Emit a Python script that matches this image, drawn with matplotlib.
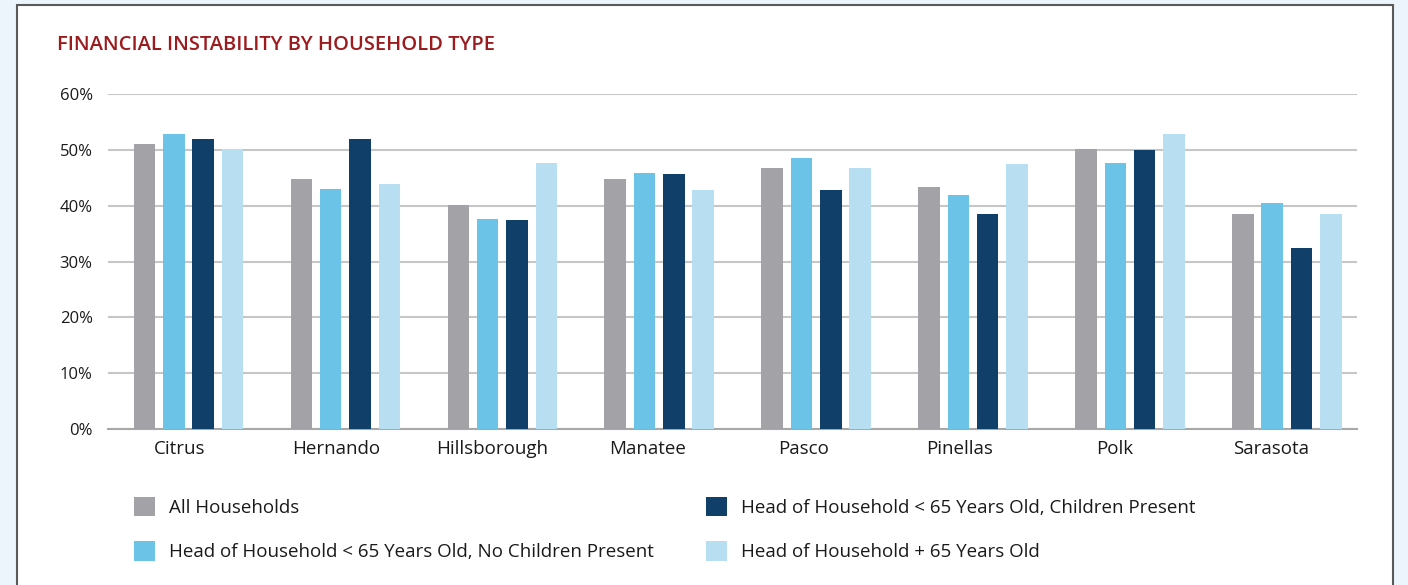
import numpy as np
import matplotlib
matplotlib.use("Agg")
import matplotlib.pyplot as plt
from matplotlib.patches import Rectangle, Patch

# data (percent)
counties = ["Citrus", "Hernando", "Hillsborough", "Manatee", "Pasco", "Pinellas", "Polk", "Sarasota"]
all_households = [51.1, 44.8, 40.1, 44.8, 46.8, 43.4, 50.2, 38.5]
under65_no_kids = [52.9, 43.0, 37.6, 45.9, 48.6, 41.9, 47.7, 40.5]
under65_kids = [52.0, 52.0, 37.5, 45.7, 42.8, 38.5, 50.0, 32.4]
over65 = [50.2, 43.9, 47.7, 42.8, 46.8, 47.5, 52.9, 38.5]

series_names = ["All Households",
                "Head of Household < 65 Years Old, No Children Present",
                "Head of Household < 65 Years Old, Children Present",
                "Head of Household + 65 Years Old"]
colors = ["#a3a2a7", "#6cc3e8", "#103f69", "#b8def2"]
yticks = [0, 10, 20, 30, 40, 50, 60]

plt.rcParams['font.family'] = ['Open Sans', 'DejaVu Sans']

W, H = 1408, 585
fig = plt.figure(figsize=(W / 100, H / 100), dpi=100, facecolor="#edf5fc")

# white panel with dark border, kept behind everything
panel = Rectangle((17 / W, -0.1), (1393 - 17) / W, 1 - 5 / H + 0.1,
                  transform=fig.transFigure, facecolor="white",
                  edgecolor="#5a5a5a", linewidth=1.5, zorder=-5)
fig.patches.append(panel)

ax = fig.add_axes([108 / W, 1 - 429 / H, (1357 - 108) / W, (429 - 94) / H])
ax.set_facecolor("none")
ax.set_zorder(2)

x = np.arange(len(counties))
step = 0.187
width = 0.137
data = [all_households, under65_no_kids, under65_kids, over65]
for k, (vals, c) in enumerate(zip(data, colors)):
    ax.bar(x + (k - 1.5) * step, vals, width=width, color=c, zorder=3, label=series_names[k])

ax.set_xlim(-0.513, 7.447)
ax.set_ylim(0, 60)
ax.set_yticks(yticks)
ax.set_yticklabels([f"{t}%" for t in yticks], fontsize=12, color="#1a1a1a", fontweight="medium")
ax.tick_params(axis="y", length=0, pad=11)
ax.yaxis.grid(True, color="#c6c6c6", linewidth=1.5, zorder=0)
ax.set_axisbelow(True)
for s in ["top", "right", "left"]:
    ax.spines[s].set_visible(False)
ax.spines["bottom"].set_color("#a8a8a8")
ax.spines["bottom"].set_linewidth(1.5)

# category labels sit a touch left of the group centres
ax.set_xticks(x * 0.993 - 0.054)
ax.set_xticklabels(counties, fontsize=13.5, color="#1a1a1a", fontweight="medium")
ax.tick_params(axis="x", length=0, pad=8)

fig.text(57 / W, 1 - 45 / H, "FINANCIAL INSTABILITY BY HOUSEHOLD TYPE",
         fontsize=14.5, fontweight="semibold", color="#9b1b1f", va="center", ha="left")

handles = [Patch(facecolor=c, edgecolor="none") for c in colors]
fig.legend(handles, series_names, ncol=2, frameon=False,
           prop={"size": 13.5, "weight": "medium"}, labelcolor="#1a1a1a",
           loc="upper left", bbox_to_anchor=(134 / W, 1 - 497 / H),
           handlelength=1.1, handleheight=1.2, handletextpad=0.75,
           labelspacing=1.3, columnspacing=2.8, borderaxespad=0, borderpad=0)

fig.savefig("out.png", dpi=100, facecolor=fig.get_facecolor())
